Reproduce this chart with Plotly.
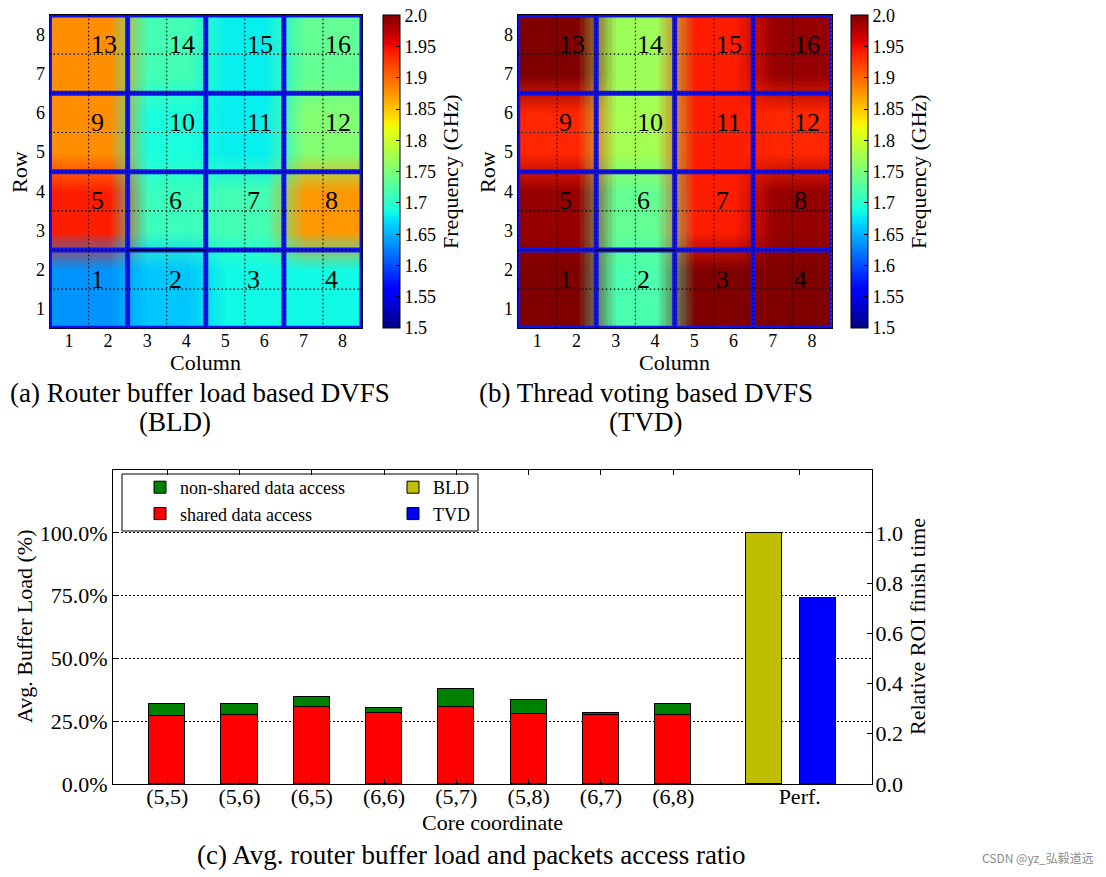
import numpy as np
import plotly.graph_objects as go

# page has an 8px body margin; the figure is sized to fit inside the 1106x877 window
OFF = 8
FW, FH = 1106 - OFF, 877 - OFF
SERIF = "Liberation Serif"

# ---------------- data ----------------
# per-core frequencies (GHz), rows listed bottom -> top, columns left -> right
core_ids = [[1, 2, 3, 4],
            [5, 6, 7, 8],
            [9, 10, 11, 12],
            [13, 14, 15, 16]]
bld_freq = [[1.635, 1.66, 1.685, 1.685],
            [1.94, 1.71, 1.715, 1.875],
            [1.88, 1.69, 1.68, 1.755],
            [1.88, 1.715, 1.68, 1.735]]
tvd_freq = [[2.0, 1.72, 2.0, 2.0],
            [1.99, 1.735, 1.94, 1.99],
            [1.935, 1.775, 1.94, 1.935],
            [2.0, 1.77, 1.94, 1.99]]
grid_ticks = [1, 2, 3, 4, 5, 6, 7, 8]
cbar_ticks = [1.5, 1.55, 1.6, 1.65, 1.7, 1.75, 1.8, 1.85, 1.9, 1.95, 2.0]
cbar_labels = ["1.5", "1.55", "1.6", "1.65", "1.7", "1.75", "1.8", "1.85", "1.9", "1.95", "2.0"]

coords = ["(5,5)", "(5,6)", "(6,5)", "(6,6)", "(5,7)", "(5,8)", "(6,7)", "(6,8)"]
shared = [27.2, 27.6, 30.6, 28.4, 30.6, 28.0, 27.6, 27.3]
nonshared = [4.5, 4.2, 4.2, 2.0, 7.4, 5.5, 0.6, 4.7]
perf_names = ["BLD", "TVD"]
perf_vals = [1.0, 0.739]
left_ticks = [0, 25, 50, 75, 100]
left_labels = ["0.0%", "25.0%", "50.0%", "75.0%", "100.0%"]
right_ticks = [0, 0.2, 0.4, 0.6, 0.8, 1.0]
right_labels = ["0.0", "0.2", "0.4", "0.6", "0.8", "1.0"]

# ---------------- layout constants ----------------
bar_x = list(range(len(coords)))
perf_x = [8.25, 9.0]
perf_tick = 8.75

# matplotlib "jet"
jr = [(0, 0), (0.35, 0), (0.66, 1), (0.89, 1), (1, 0.5)]
jg = [(0, 0), (0.125, 0), (0.375, 1), (0.64, 1), (0.91, 0), (1, 0)]
jb = [(0, 0.5), (0.11, 1), (0.34, 1), (0.65, 0), (1, 0)]
knots = sorted(set([p for seg in (jr, jg, jb) for p, _ in seg]))
def _ch(seg, t):
    return np.interp(t, [a for a, _ in seg], [b for _, b in seg])
jet = [[t, "rgb(%d,%d,%d)" % (round(255 * _ch(jr, t)), round(255 * _ch(jg, t)), round(255 * _ch(jb, t)))]
       for t in knots]

def px2x(px):
    return (px - OFF) / FW

def px2y(py):
    return 1 - (py - OFF) / FH

fig = go.Figure()

heat_specs = [
    dict(freq=bld_freq, xa="x", ya="y", xd=[49.5, 362.0], cbx=382.7),
    dict(freq=tvd_freq, xa="x2", ya="y2", xd=[517.7, 831.7], cbx=851.0),
]
ydom_px = [15.0, 328.3]
BLUE = "#1212f0"

shapes = []
ann = []
for spec in heat_specs:
    z = np.kron(np.array(spec["freq"]), np.ones((2, 2)))
    fig.add_trace(go.Heatmap(
        z=z, x=grid_ticks, y=grid_ticks, zmin=1.4999, zmax=2.0001,
        colorscale=jet, zsmooth="fast", xaxis=spec["xa"], yaxis=spec["ya"],
        hoverinfo="skip",
        colorbar=dict(
            x=px2x(spec["cbx"]), xanchor="left", xpad=0,
            y=px2y(sum(ydom_px) / 2), yanchor="middle", ypad=0,
            len=ydom_px[1] - ydom_px[0], lenmode="pixels",
            thickness=16.5, thicknessmode="pixels",
            outlinewidth=1, outlinecolor="black",
            tickvals=cbar_ticks, ticktext=cbar_labels,
            ticks="inside", ticklen=4, tickcolor="black",
            ticklabeloverflow="allow",
            tickfont=dict(family=SERIF, size=18, color="black"),
            title=dict(text="Frequency (GHz)", side="right",
                       font=dict(family=SERIF, size=22, color="black")),
        ),
    ))
    xr = spec["xa"]; yr = spec["ya"]
    centers = np.arange(4) * 2 + 1.5
    for r, row in enumerate(core_ids):
        for c, cid in enumerate(row):
            ann.append(dict(text=str(cid), x=centers[c], y=centers[r], xref=xr, yref=yr,
                            xanchor="left", yanchor="middle", yshift=10, showarrow=False,
                            font=dict(family=SERIF, size=26, color="black")))

    n = len(grid_ticks)
    for v in np.arange(0.5, n + 1, 2):
        shapes.append(dict(type="line", xref=xr, yref=yr, x0=v, x1=v, y0=0.5, y1=n + 0.5,
                           line=dict(color=BLUE, width=5), layer="above"))
        shapes.append(dict(type="line", xref=xr, yref=yr, y0=v, y1=v, x0=0.5, x1=n + 0.5,
                           line=dict(color=BLUE, width=5), layer="above"))
    for v in np.arange(0.5, n + 1, 1):
        shapes.append(dict(type="line", xref=xr, yref=yr, x0=v, x1=v, y0=0.5, y1=n + 0.5,
                           line=dict(color="black", width=1.2, dash="1.5px,2.5px"), layer="above"))
        shapes.append(dict(type="line", xref=xr, yref=yr, y0=v, y1=v, x0=0.5, x1=n + 0.5,
                           line=dict(color="black", width=1.2, dash="1.5px,2.5px"), layer="above"))
    shapes.append(dict(type="line", xref=xr, yref=yr, x0=2.5, x1=4.5, y0=2.5, y1=2.5,
                       line=dict(color="black", width=1.5), layer="above"))

# ---------------- bar chart ----------------
bar_line = dict(color="black", width=1)
fig.add_trace(go.Bar(x=bar_x, y=shared, name="shared data access", width=0.5,
                     marker=dict(color="#ff0000", line=bar_line),
                     xaxis="x3", yaxis="y3", legend="legend", legendrank=2))
fig.add_trace(go.Bar(x=bar_x, y=nonshared, name="non-shared data access", width=0.5,
                     marker=dict(color="#008000", line=bar_line),
                     xaxis="x3", yaxis="y3", legend="legend", legendrank=1))
perf_colors = ["rgb(191,191,0)", "#0000ff"]
for i in range(2):
    fig.add_trace(go.Bar(x=[perf_x[i]], y=[perf_vals[i]], name=perf_names[i], width=0.5,
                         marker=dict(color=perf_colors[i], line=bar_line),
                         xaxis="x3", yaxis="y4", legend="legend2", legendrank=i + 1))

shapes.append(dict(type="rect", xref="paper", yref="paper",
                   x0=px2x(122), x1=px2x(478), y0=px2y(531), y1=px2y(474),
                   line=dict(color="black", width=1), layer="above"))

tickf = dict(family=SERIF, size=18, color="black")
tickb = dict(family=SERIF, size=22, color="black")

def heat_axes(xd):
    common = dict(range=[0.5, 8.5], tickvals=grid_ticks, showgrid=False, zeroline=False,
                  showline=True, linecolor="black", linewidth=1, mirror=True, ticks="",
                  tickfont=tickf, automargin=False, fixedrange=True)
    xa = dict(common, domain=[px2x(xd[0]), px2x(xd[1])], ticklabelstandoff=-4)
    ya = dict(common, domain=[px2y(ydom_px[1]), px2y(ydom_px[0])])
    return xa, ya

xa1, ya1 = heat_axes(heat_specs[0]["xd"])
xa2, ya2 = heat_axes(heat_specs[1]["xd"])
xa1["anchor"] = "y"; ya1["anchor"] = "x"
xa2["anchor"] = "y2"; ya2["anchor"] = "x2"

bar_ydom = [px2y(784), px2y(470)]
xaxis3 = dict(domain=[px2x(113), px2x(872)], anchor="y3", range=[-0.75, 9.75],
              tickvals=bar_x + [perf_tick], ticktext=coords + ["Perf."],
              ticks="inside", ticklen=5, tickcolor="black", mirror="ticks",
              showline=True, linecolor="black", linewidth=1, showgrid=False, zeroline=False,
              tickfont=tickb, automargin=False, ticklabelstandoff=-7)
yaxis3 = dict(domain=bar_ydom, anchor="x3", range=[0, 125], tickvals=left_ticks,
              ticktext=left_labels, ticks="inside", ticklen=5, tickcolor="black",
              showline=True, linecolor="black", linewidth=1, mirror=True,
              showgrid=True, gridcolor="black", gridwidth=1, griddash="1.5px,2.5px",
              zeroline=False, tickfont=tickb, automargin=False)
yaxis4 = dict(overlaying="y3", side="right", anchor="x3", range=[0, 1.25], tickvals=right_ticks,
              ticktext=right_labels, ticks="inside", ticklen=5, tickcolor="black",
              showline=True, linecolor="black", linewidth=1, showgrid=False, zeroline=False,
              tickfont=tickb, automargin=False, ticklabelstandoff=-2)

def A(text, x, y, size=22, angle=0, color="black", family=SERIF):
    ann.append(dict(text=text, x=px2x(x), y=px2y(y), xref="paper", yref="paper",
                    showarrow=False, xanchor="center", yanchor="middle", textangle=angle,
                    font=dict(family=family, size=size, color=color)))

A("Row", 20, 172, angle=-90)
A("Row", 488, 172, angle=-90)
A("Column", 205.75, 362)
A("Column", 674.7, 362)
A("(a) Router buffer load based DVFS", 200, 393, size=27)
A("(BLD)", 175, 422, size=27)
A("(b) Thread voting based DVFS", 646, 393, size=27)
A("(TVD)", 645, 422, size=27)
A("Core coordinate", 492.5, 822)
A("Avg. Buffer Load (%)", 24, 627, angle=-90)
A("Relative ROI finish time", 917, 627, angle=-90)
A("(c) Avg. router buffer load and packets access ratio", 471, 855, size=27)
A("CSDN @yz_弘毅道远", 1038, 857, size=12, color="#8a8a8a", family="Noto Sans CJK SC")

legf = dict(family=SERIF, size=18, color="black")
fig.update_layout(
    width=FW, height=FH, template="none",
    margin=dict(l=0, r=0, t=0, b=0),
    paper_bgcolor="white", plot_bgcolor="white",
    barmode="stack", bargap=0,
    xaxis=xa1, yaxis=ya1, xaxis2=xa2, yaxis2=ya2,
    xaxis3=xaxis3, yaxis3=yaxis3, yaxis4=yaxis4,
    shapes=shapes, annotations=ann,
    legend=dict(x=px2x(140), y=px2y(469), xanchor="left", yanchor="top",
                bgcolor="rgba(0,0,0,0)", borderwidth=0, font=legf, traceorder="normal"),
    legend2=dict(x=px2x(393), y=px2y(469), xanchor="left", yanchor="top",
                 bgcolor="rgba(0,0,0,0)", borderwidth=0, font=legf, traceorder="normal"),
    font=dict(family=SERIF, color="black"),
)

fig.write_html("out.html")
